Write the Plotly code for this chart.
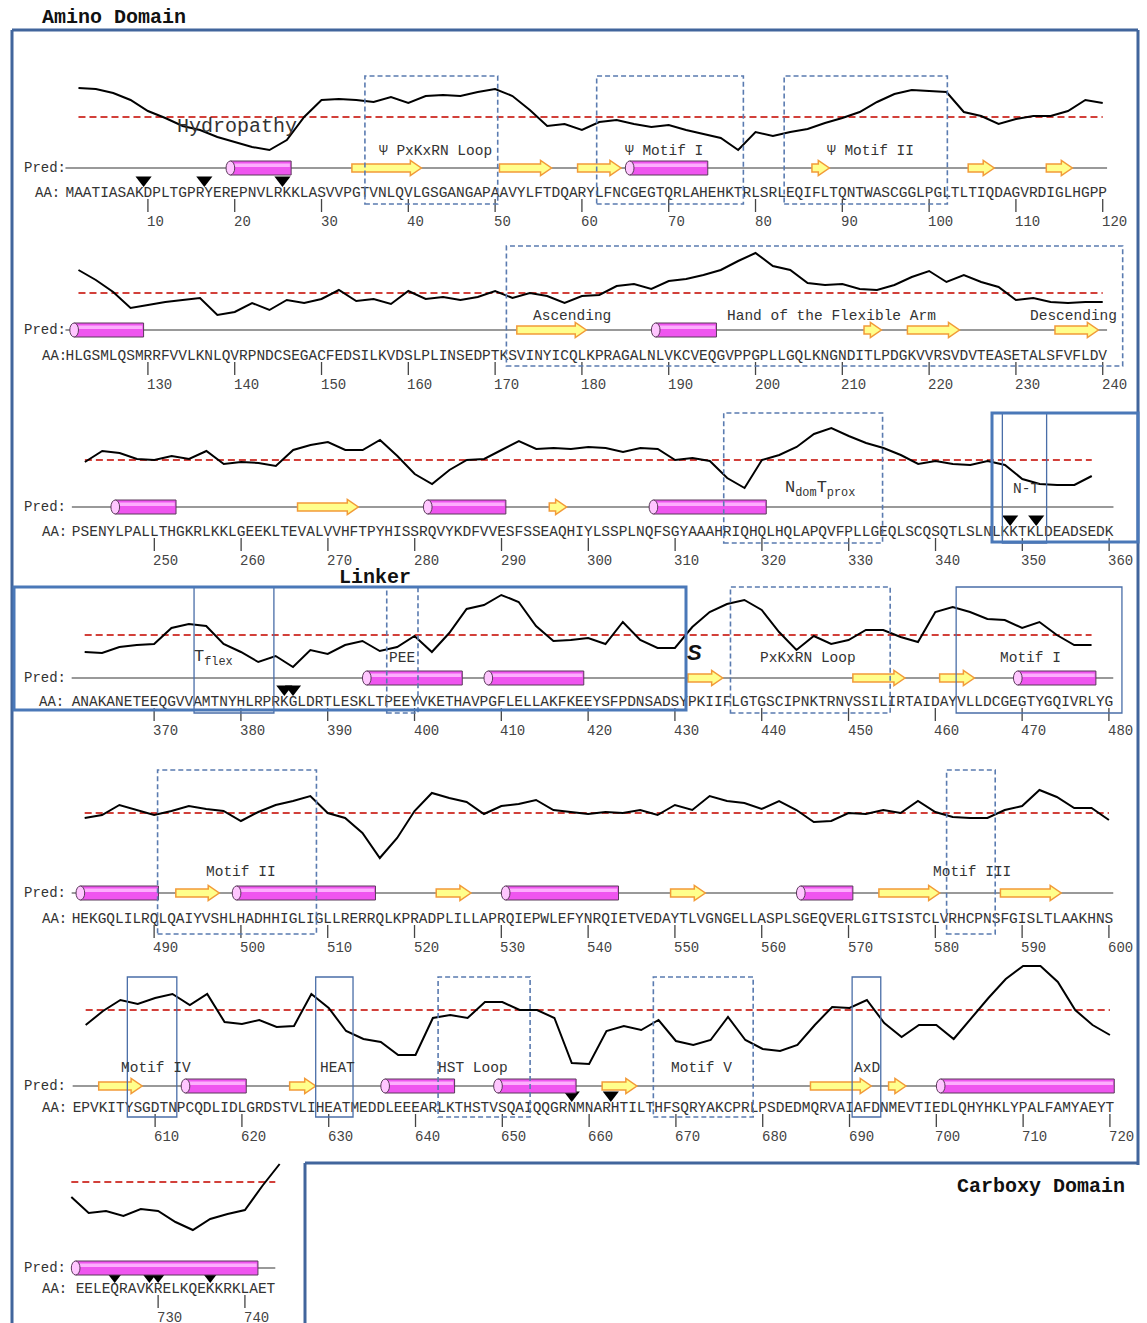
import plotly.graph_objects as go

W, H = 1147, 1323
RES_PX = 8.68      # horizontal pixels per residue
UNIT_PX = 20.0     # vertical pixels per hydropathy unit

# ---------------- data ----------------
SEQUENCE = (
    "MAATIASAKDPLTGPRYEREPNVLRKKLASVVPGTVNLQVLGSGANGAPAAVYLFTDQARYLFNCGEGTQRLAHEHKTRLSRLEQIFLTQNTWASCGGLPGLTLTIQDAGVRDIGLHGPP"
    "HLGSMLQSMRRFVVLKNLQVRPNDCSEGACFEDSILKVDSLPLINSEDPTKSVINYICQLKPRAGALNLVKCVEQGVPPGPLLGQLKNGNDITLPDGKVVRSVDVTEASETALSFVFLDV"
    "PSENYLPALLTHGKRLKKLGEEKLTEVALVVHFTPYHISSRQVYKDFVVESFSSEAQHIYLSSPLNQFSGYAAAHRIQHQLHQLAPQVFPLLGEQLSCQSQTLSLNLKKTKLDEADSEDK"
    "ANAKANETEEQGVVAMTNYHLRPRKGLDRTLESKLTPEEYVKETHAVPGFLELLAKFKEEYSFPDNSADSYPKIIFLGTGSCIPNKTRNVSSILIRTAIDAYVLLDCGEGTYGQIVRLYG"
    "HEKGQLILRQLQAIYVSHLHADHHIGLIGLLRERRQLKPRADPLILLAPRQIEPWLEFYNRQIETVEDAYTLVGNGELLASPLSGEQVERLGITSISTCLVRHCPNSFGISLTLAAKHNS"
    "EPVKITYSGDTNPCQDLIDLGRDSTVLIHEATMEDDLEEEARLKTHSTVSQAIQQGRNMNARHTILTHFSQRYAKCPRLPSDEDMQRVAIAFDNMEVTIEDLQHYHKLYPALFAMYAEYT"
    "EELEQRAVKRELKQEKKRKLAET"
)
ROW_START = [1, 121, 241, 361, 481, 601, 721]
ROW_END = [120, 240, 360, 480, 600, 720, 743]

HYD_STEP = 2
HYD_START = [2, 122, 242, 362, 482, 602, 720]
hyd_row1 = [1.45, 1.4, 1.2, 0.85, 0.3, -0.05, -0.45, -0.65, -1.0, -1.25,
            -1.5, -1.65, -1.15, 0.0, 0.85, 0.9, 0.85, 0.75, 1.0, 0.7,
            1.05, 1.1, 1.05, 1.25, 1.4, 1.05, 0.35, -0.45, -0.35, -0.65,
            -0.25, -0.15, -0.35, -0.5, -0.4, -0.65, -0.85, -1.05, -1.65, -0.75,
            -0.95, -0.75, -0.6, -0.3, -0.05, 0.25, 0.75, 1.15, 1.35, 1.3,
            1.25, 0.25, 0.05, -0.35, -0.1, 0.05, 0.05, 0.3, 0.85, 0.7]
hyd_row2 = [1.15, 0.65, 0.05, -0.75, -0.6, -0.45, -0.35, -0.25, -1.1, -0.95,
            -0.5, -0.85, -0.35, -0.5, -0.3, 0.15, -0.4, -0.3, -0.55, 0.1,
            -0.3, -0.2, -0.35, -0.2, 0.1, -0.25, 0.0, -0.15, -0.5, -0.15,
            -0.1, 0.35, 0.45, 0.2, 0.6, 0.7, 0.9, 1.15, 1.6, 2.0,
            1.35, 1.15, 0.5, 0.4, 0.45, 0.2, 0.15, 0.4, 0.8, 1.1,
            0.55, 0.9, 0.55, 0.3, -0.35, -0.25, -0.45, -0.5, -0.45, -0.45]
hyd_row3 = [-0.1, 0.45, 0.35, 0.05, 0.0, 0.2, 0.05, 0.45, -0.2, -0.1,
            -0.15, -0.3, 0.5, 0.75, 0.9, 0.5, 0.5, 1.0, 0.2, -0.7,
            -1.2, -0.5, 0.0, 0.05, 0.5, 0.95, 0.55, 0.6, 0.55, 0.65,
            0.6, 0.4, 0.6, 0.55, 0.0, 0.1, -0.05, -0.9, -1.4, 0.0,
            0.25, 0.65, 1.3, 1.6, 1.2, 0.85, 0.6, 0.25, -0.2, -0.05,
            -0.2, -0.25, -0.05, -0.25, -0.95, -1.2, -1.25, -1.25, -0.8]
hyd_row4 = [-0.85, -0.9, -0.6, -0.5, -0.45, 0.35, 0.55, 0.45, -0.45, -0.85,
            -1.35, -1.05, -1.6, -0.75, -0.95, -0.5, -0.3, -0.8, -0.6, -0.05,
            -0.85, 0.1, 1.3, 1.5, 2.0, 1.65, 0.45, -0.3, -0.25, -0.15,
            -0.45, 0.65, -0.25, -0.65, -0.65, 0.4, 1.15, 1.55, 1.75, 1.25,
            0.15, -0.75, -0.05, -0.45, -0.25, 0.25, 0.25, -0.1, -0.35, 1.15,
            1.4, 1.15, 0.8, 0.75, 0.35, 0.65, 0.0, -0.5, -0.5]
hyd_row5 = [-0.25, -0.1, 0.4, 0.15, -0.1, 0.1, 0.35, 0.2, 0.1, -0.4,
            0.05, 0.4, 0.6, 0.85, 0.0, -0.25, -1.0, -2.25, -1.25, 0.1,
            1.0, 0.75, 0.55, -0.05, 0.35, 0.45, 0.65, 0.15, 0.05, -0.05,
            0.05, 0.0, 0.15, -0.1, 0.4, 0.15, 0.85, 0.6, 0.5, 0.2,
            0.6, 0.15, -0.45, -0.4, 0.0, -0.05, 0.15, 0.0, 0.6, 0.05,
            -0.2, -0.25, -0.25, 0.15, 0.35, 1.15, 0.8, 0.25, 0.25, -0.35]
hyd_row6 = [-0.75, -0.05, 0.5, 0.3, 0.6, 0.8, 0.25, 0.8, -0.6, -0.7,
            -0.5, -0.85, -0.8, 0.8, 0.1, -1.05, -1.45, -1.6, -2.25, -2.25,
            -0.4, -0.25, -0.4, 0.4, 0.4, 0.0, 0.0, -0.4, -2.65, -2.7,
            -1.05, -0.8, -1.0, -0.5, -1.55, -1.75, -1.5, -0.35, -1.5, -1.95,
            -2.05, -1.75, -0.75, 0.15, 0.1, 0.5, -0.65, -1.35, -0.75, -0.75,
            -1.45, -0.4, 0.6, 1.55, 2.2, 2.2, 1.4, 0.0, -0.75, -1.25]
hyd_row7 = [-0.75, -1.55, -1.45, -1.7, -1.35, -1.45, -2.0, -2.4, -1.85, -1.6,
            -1.4, -0.2, 0.9]
HYD = [hyd_row1, hyd_row2, hyd_row3, hyd_row4, hyd_row5, hyd_row6, hyd_row7]

HELICES = [(20, 26), (66, 74), (122, 129), (189, 195), (246, 252), (282, 290),
           (308, 320), (395, 405), (409, 419), (470, 478), (482, 490), (500, 515),
           (531, 543), (565, 570), (614, 620), (637, 644), (650, 658), (701, 741)]
STRANDS = [(34, 41), (51, 56), (60, 64), (87, 88), (105, 107), (114, 116),
           (173, 180), (213, 214), (218, 223), (235, 239), (267, 273), (296, 297),
           (432, 435), (451, 456), (461, 464), (493, 497), (523, 526), (550, 553),
           (574, 580), (588, 594), (604, 608), (626, 628), (662, 665), (686, 692),
           (695, 696)]
SITES = [9.5, 16.5, 25.5, 348.6, 351.6, 385, 386, 658, 662.5, 725, 729, 730, 736]

# motif boxes: (left edge residue, right edge residue, style)
MOTIF_BOXES = [(35.0, 50.3, "dash"), (61.7, 78.6, "dash"), (83.3, 102.1, "dash"),
               (171.3, 242.3, "dash"),
               (315.6, 333.9, "dash"), (347.7, 352.8, "solid"),
               (374.6, 383.8, "solid"), (396.8, 400.4, "dash"), (436.4, 454.8, "dash"),
               (462.4, 481.5, "solid"),
               (490.4, 508.7, "dash"), (581.3, 586.9, "dash"),
               (606.8, 612.5, "solid"), (628.5, 632.8, "solid"), (642.6, 653.2, "dash"),
               (667.4, 678.9, "dash"), (690.3, 693.6, "solid")]
MOTIF_LABELS = [("\u03a8 PxKxRN Loop", 43.1), ("\u03a8 Motif I", 69.5), ("\u03a8 Motif II", 93.3),
                ("Ascending", 178.9), ("Hand of the Flexible Arm", 208.8), ("Descending", 236.6),
                ("N<sub>dom</sub>T<sub>prox</sub>", 326.7), ("N-T", 350.4),
                ("T<sub>flex</sub>", 376.8), ("PEE", 398.6), ("PxKxRN Loop", 445.3), ("Motif I", 471.0),
                ("Motif II", 500.0), ("Motif III", 584.2),
                ("Motif IV", 610.1), ("HEAT", 631.0), ("HST Loop", 646.6), ("Motif V", 673.0),
                ("AxD", 692.0)]

# ---------------- layout constants (pixels) ----------------
ROW_X0 = [69.8, 69.8, 76.2, 76.0, 76.0, 77.0, 80.0]
ROW_RED = [117, 293, 460, 635, 813, 1010, 1182]
ROW_PRED = [168, 330, 507, 678, 893, 1086, 1268]
ROW_AA = [193, 356, 532, 702, 919, 1108, 1289]
ROW_LABEL = [151, 316, 489, 658, 872, 1068, 1240]
ROW_BOX = [(76, 204), (246, 366), (413, 543), (587, 713), (770, 934), (977, 1117), (1160, 1300)]
AA_LABEL_X = [33, 40, 40, 37, 40, 40, 40]

MONO = "Liberation Mono, Courier New, monospace"
FRAME = "#41659c"
BOXC = "#5a7bb0"

fig = go.Figure()
shapes, annotations, axes = [], [], {}


def refs(i):
    return ("x" if i == 0 else f"x{i+1}"), ("y" if i == 0 else f"y{i+1}")


def yv(i, py):
    return (ROW_RED[i] - py) / UNIT_PX


def row_of(r):
    return max(0, min(6, int((r - 1) // 120)))


def px(x):
    return x / W


def py_(y):
    return 1 - y / H


for i in range(7):
    xr, yr = refs(i)
    lo = ROW_START[i] - ROW_X0[i] / RES_PX
    top = ROW_RED[i] / UNIT_PX
    axes["xaxis" if i == 0 else f"xaxis{i+1}"] = dict(
        domain=[0, 1], range=[lo, lo + W / RES_PX], visible=False,
        anchor=yr, fixedrange=True)
    axes["yaxis" if i == 0 else f"yaxis{i+1}"] = dict(
        domain=[0, 1], range=[top - H / UNIT_PX, top], visible=False,
        anchor=xr, fixedrange=True)

    rs, re_ = ROW_START[i], ROW_END[i]
    xs = [HYD_START[i] + HYD_STEP * k for k in range(len(HYD[i]))]
    # red threshold line
    fig.add_trace(go.Scatter(x=[xs[0], min(xs[-1], re_ + 0.5)], y=[0, 0], mode="lines",
                             line=dict(color="#d2403a", width=2, dash="7px,4px"),
                             xaxis=xr, yaxis=yr, hoverinfo="skip"))
    # hydropathy
    fig.add_trace(go.Scatter(x=xs, y=HYD[i], mode="lines",
                             line=dict(color="black", width=2),
                             xaxis=xr, yaxis=yr, hoverinfo="skip"))
    # prediction baseline
    fig.add_trace(go.Scatter(x=[rs - 0.5, re_ + 0.5], y=[yv(i, ROW_PRED[i])] * 2, mode="lines",
                             line=dict(color="#777777", width=1.3),
                             xaxis=xr, yaxis=yr, hoverinfo="skip"))
    # amino acid letters
    res = list(range(rs, re_ + 1))
    fig.add_trace(go.Scatter(x=res, y=[yv(i, ROW_AA[i])] * len(res), mode="text",
                             text=list(SEQUENCE[rs - 1:re_]), textposition="middle center",
                             textfont=dict(family=MONO, size=14.5, color="#333333"),
                             xaxis=xr, yaxis=yr, hoverinfo="skip"))
    # ticks
    ticks = [t for t in res if t % 10 == 0]
    tx, ty = [], []
    for t in ticks:
        tx += [t, t, None]
        ty += [yv(i, ROW_AA[i] + 6), yv(i, ROW_AA[i] + 19), None]
        annotations.append(dict(x=t, y=yv(i, ROW_AA[i] + 29), xref=xr, yref=yr, text=str(t),
                                showarrow=False, xanchor="left", xshift=-3, yanchor="middle",
                                font=dict(family=MONO, size=14, color="#444444")))
    fig.add_trace(go.Scatter(x=tx, y=ty, mode="lines", line=dict(color="#444444", width=1.3),
                             xaxis=xr, yaxis=yr, hoverinfo="skip"))
    # row labels
    annotations.append(dict(x=px(22), y=py_(ROW_PRED[i]), xref="paper", yref="paper", text="Pred:",
                            showarrow=False, xanchor="left", yanchor="middle",
                            font=dict(family=MONO, size=14, color="#333333")))
    annotations.append(dict(x=px(AA_LABEL_X[i]), y=py_(ROW_AA[i]), xref="paper", yref="paper",
                            text="AA:", showarrow=False, xanchor="left", yanchor="middle",
                            font=dict(family=MONO, size=14, color="#333333")))

# site triangles
for i in range(7):
    xr, yr = refs(i)
    pts = [s for s in SITES if row_of(s) == i]
    if pts:
        fig.add_trace(go.Scatter(x=pts, y=[yv(i, ROW_AA[i] - 13)] * len(pts), mode="markers",
                                 marker=dict(symbol="triangle-down", size=14, color="black"),
                                 xaxis=xr, yaxis=yr, hoverinfo="skip"))


def segments(s, e):
    out = []
    for i in range(7):
        a, b = max(s, ROW_START[i]), min(e, ROW_END[i])
        if a <= b:
            out.append((i, a, b))
    return out


# strands (arrows)
for s, e in STRANDS:
    for i, a, b in segments(s, e):
        xr, yr = refs(i)
        yc = yv(i, ROW_PRED[i])
        x0, x1 = a - 0.5, b + 0.5
        bh, hh, hl = 4 / UNIT_PX, 7.5 / UNIT_PX, 11 / RES_PX
        xh = max(x0 + 0.2, x1 - hl)
        path = (f"M{x0},{yc+bh} L{xh},{yc+bh} L{xh},{yc+hh} L{x1},{yc} "
                f"L{xh},{yc-hh} L{xh},{yc-bh} L{x0},{yc-bh} Z")
        shapes.append(dict(type="path", path=path, xref=xr, yref=yr,
                           fillcolor="#ffff8c", line=dict(color="#f29b38", width=1.5)))

# helices (cylinders)
for s, e in HELICES:
    for i, a, b in segments(s, e):
        xr, yr = refs(i)
        yc = yv(i, ROW_PRED[i])
        x0, x1 = a - 0.5, b + 0.5
        hh = 7 / UNIT_PX
        shapes.append(dict(type="rect", x0=x0, x1=x1, y0=yc - hh, y1=yc + hh, xref=xr, yref=yr,
                           fillcolor="#ef55ef", line=dict(color="#5a3a5a", width=1)))
        shapes.append(dict(type="rect", x0=x0 + 0.4, x1=x1 - 0.15, y0=yc + 1 / UNIT_PX,
                           y1=yc + 4.5 / UNIT_PX, xref=xr, yref=yr,
                           fillcolor="rgba(255,190,255,0.85)", line=dict(width=0)))
        shapes.append(dict(type="circle", x0=x0 - 0.5, x1=x0 + 0.5, y0=yc - hh, y1=yc + hh,
                           xref=xr, yref=yr, fillcolor="#ffc6ff",
                           line=dict(color="#5a3a5a", width=1)))

# motif boxes
for a, b, style in MOTIF_BOXES:
    i = row_of(a)
    xr, yr = refs(i)
    t, bt = ROW_BOX[i]
    if style == "dash":
        ln = dict(color=BOXC, width=1.6, dash="5px,3px")
    else:
        ln = dict(color="#4a6ea8", width=1.3)
    shapes.append(dict(type="rect", x0=a, x1=b, y0=yv(i, bt), y1=yv(i, t), xref=xr, yref=yr,
                       line=ln, fillcolor="rgba(0,0,0,0)"))

for text, r in MOTIF_LABELS:
    i = row_of(r)
    xr, yr = refs(i)
    big = "<sub>" in text
    annotations.append(dict(x=r, y=yv(i, ROW_LABEL[i]), xref=xr, yref=yr, text=text,
                            showarrow=False, xanchor="center", yanchor="middle",
                            font=dict(family=MONO, size=17 if big else 14.5, color="#333333")))

# hydropathy label
annotations.append(dict(x=20.3, y=yv(0, 126), xref="x", yref="y", text="Hydropathy",
                        showarrow=False, xanchor="center", yanchor="middle",
                        font=dict(family=MONO, size=20, color="#333333")))

# domain frames
frame_lines = [((12, 30), (1138, 30)), ((1138, 30), (1138, 1165)), ((12, 30), (12, 1323)),
               ((305, 1163), (1138, 1163)), ((305, 1163), (305, 1323))]
for (xa, ya), (xb, yb) in frame_lines:
    shapes.append(dict(type="line", x0=px(xa), y0=py_(ya), x1=px(xb), y1=py_(yb),
                       xref="paper", yref="paper", line=dict(color=FRAME, width=3)))
for (xa, ya, xb, yb) in [(14, 587, 686, 710), (992, 413, 1138, 542)]:
    shapes.append(dict(type="rect", x0=px(xa), y0=py_(yb), x1=px(xb), y1=py_(ya),
                       xref="paper", yref="paper", line=dict(color="#4a78b8", width=3)))

for text, x, y in [("Amino Domain", 40, 17), ("Linker", 337, 577), ("Carboxy Domain", 955, 1186)]:
    annotations.append(dict(x=px(x), y=py_(y), xref="paper", yref="paper", text=f"<b>{text}</b>",
                            showarrow=False, xanchor="left", yanchor="middle",
                            font=dict(family=MONO, size=20, color="#111111")))
annotations.append(dict(x=px(694), y=py_(652), xref="paper", yref="paper", text="<b><i>S</i></b>",
                        showarrow=False, xanchor="center", yanchor="middle",
                        font=dict(family="Liberation Sans, Arial", size=22, color="#111111")))

fig.update_layout(width=W, height=H, autosize=False, margin=dict(l=0, r=0, t=0, b=0),
                  paper_bgcolor="white", plot_bgcolor="rgba(0,0,0,0)", showlegend=False,
                  shapes=shapes, annotations=annotations, **axes)
fig.write_html("out.html")
